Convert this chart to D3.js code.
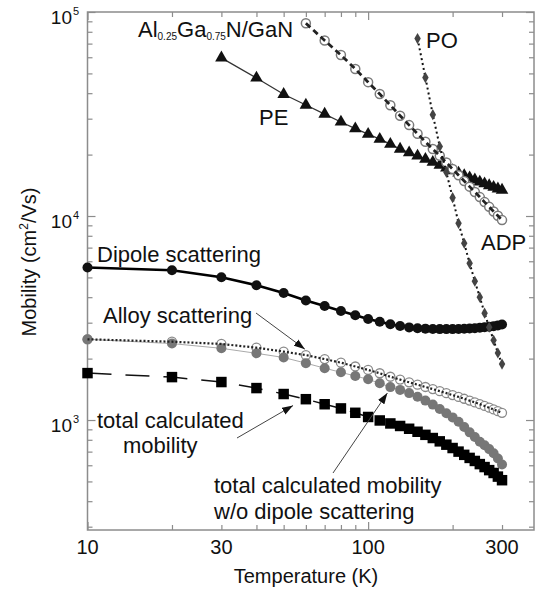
<!DOCTYPE html>
<html>
<head>
<meta charset="utf-8">
<script src="https://cdn.jsdelivr.net/npm/d3@7"></script>
<style>
  html, body { margin: 0; padding: 0; background: #fff; }
  svg { display: block; font-family: "Liberation Sans", Arial, Helvetica, sans-serif; }
</style>
</head>
<body>
<svg id="chart" width="538" height="593"></svg>
<script>
// Temperatures (K) for the curves computed on the full grid
const temperature = [10,20,30,40,50,60,70,80,90,100,110,120,130,140,150,160,170,180,190,200,210,220,230,240,250,260,270,280,290,300];
// Dipole scattering limited mobility (cm^2/Vs)
const dipole = [5590,5420,5010,4580,4190,3850,3620,3420,3260,3130,3030,2950,2890,2845,2820,2805,2795,2790,2790,2790,2795,2800,2810,2820,2835,2850,2865,2885,2910,2940];
// Alloy scattering limited mobility
const alloy = [2487,2420,2360,2262,2165,2080,1990,1910,1830,1760,1695,1630,1578,1530,1490,1452,1418,1385,1354,1325,1298,1271,1245,1220,1196,1172,1149,1127,1105,1084];
// Total calculated mobility without dipole scattering
const totalNoDipole = [2487,2370,2246,2123,2025,1900,1795,1713,1643,1583,1515,1450,1405,1355,1300,1245,1190,1133,1080,1030,980,925,870,825,783,752,720,687,648,605];
// Total calculated mobility
const totalMobility = [1698,1623,1535,1434,1341,1265,1195,1140,1085,1035,995,962,935,906,876,846,816,786,757,729,700,675,652,630,608,588,568,550,528,507];

// Piezoelectric scattering
const tempPE = [30,40,50,60,70,80,90,100,110,120,130,140,150,160,170,180,190,200,210,220,230,240,250,260,270,280,290,300];
const pe = [59600,47500,39500,35000,31600,28900,26800,25200,23800,22500,21300,20450,19700,19000,18350,17750,17200,16700,16250,15800,15400,15050,14700,14400,14100,13850,13600,13400];

// Acoustic deformation potential scattering
const tempADP = [60,70,80,90,100,110,120,130,140,150,160,170,180,190,200,210,220,230,240,250,260,270,280,290,300];
const adp = [88000,72500,61500,52600,45300,39600,34900,31000,27900,25300,23100,21300,19730,18280,16990,15850,14840,13930,13120,12380,11700,11090,10530,10020,9550];

// Polar optical phonon scattering
const tempPO = [150,160,170,180,190,200,210,220,230,240,250,260,270,280,290,300];
const po = [74100,47700,31400,21900,16400,12300,9210,7350,5860,4790,4000,3340,2850,2460,2130,1880];

// Axis ticks and labels
const xTickLabels = [10, 30, 100, 300];
const xMajorTicks = [10, 100];
const xMinorTicks = [20,30,40,50,60,70,80,90,200,300];
const yTickExponents = [3, 4, 5];
const yMinorTicks = [300,400,500,600,700,800,900,2000,3000,4000,5000,6000,7000,8000,9000,20000,30000,40000,50000,60000,70000,80000,90000];

const svg = d3.select("#chart");
const plotLeft = 87.5, plotRight = 534, plotTop = 12, plotBottom = 530;

const x = d3.scaleLog().domain([10, 390]).range([plotLeft, plotRight]);
const y = d3.scaleLog().domain([289, 1e5]).range([plotBottom, plotTop]);

const frameColor = "#8c8c8c";

// ---- ticks on all four sides, pointing inward ----
const xTicks = xMajorTicks.concat(xMinorTicks);
const yMajor = yTickExponents.map(e => Math.pow(10, e));
const yTicks = yMajor.concat(yMinorTicks);

function styleAxis(g, isMajor, attr, sign) {
  g.select(".domain").remove();
  g.selectAll(".tick line")
    .attr("stroke", frameColor)
    .attr("stroke-width", 1.2)
    .attr(attr, d => sign * (isMajor(d) ? 8 : 5));
}
const isXMajor = d => xMajorTicks.includes(d);
const isYMajor = d => yMajor.includes(d);

svg.append("g").attr("transform", `translate(0,${plotBottom})`)
  .call(d3.axisBottom(x).tickValues(xTicks).tickFormat("").tickSize(-5))
  .call(g => styleAxis(g, isXMajor, "y2", -1));
svg.append("g").attr("transform", `translate(0,${plotTop})`)
  .call(d3.axisTop(x).tickValues(xTicks).tickFormat("").tickSize(-5))
  .call(g => styleAxis(g, isXMajor, "y2", 1));
svg.append("g").attr("transform", `translate(${plotLeft},0)`)
  .call(d3.axisLeft(y).tickValues(yTicks).tickFormat("").tickSize(-5))
  .call(g => styleAxis(g, isYMajor, "x2", 1));
svg.append("g").attr("transform", `translate(${plotRight},0)`)
  .call(d3.axisRight(y).tickValues(yTicks).tickFormat("").tickSize(-5))
  .call(g => styleAxis(g, isYMajor, "x2", -1));

svg.append("rect")
  .attr("x", plotLeft).attr("y", plotTop)
  .attr("width", plotRight - plotLeft).attr("height", plotBottom - plotTop)
  .attr("fill", "none").attr("stroke", frameColor).attr("stroke-width", 1.5);

// ---- tick labels ----
svg.append("g").selectAll("text").data(xTickLabels).join("text")
  .attr("x", d => x(d)).attr("y", 554)
  .attr("text-anchor", "middle").attr("font-size", 20).attr("fill", "#111")
  .text(d => d);

const yLab = svg.append("g").selectAll("g").data(yTickExponents).join("g");
yLab.append("text")
  .attr("x", 72).attr("y", d => y(Math.pow(10, d)) + 12)
  .attr("text-anchor", "end").attr("font-size", 19).attr("fill", "#111")
  .text("10");
yLab.append("text")
  .attr("x", 73).attr("y", d => y(Math.pow(10, d)) + 3)
  .attr("font-size", 11).attr("fill", "#111")
  .text(d => d);

// ---- axis titles ----
svg.append("text")
  .attr("x", 306).attr("y", 583)
  .attr("text-anchor", "middle").attr("font-size", 20).attr("fill", "#111")
  .text("Temperature (K)");

const yTitle = svg.append("text")
  .attr("transform", "translate(36,262) rotate(-90)")
  .attr("text-anchor", "middle").attr("font-size", 20).attr("fill", "#111");
yTitle.append("tspan").text("Mobility (cm");
yTitle.append("tspan").attr("font-size", 12).attr("dy", -8).text("2");
yTitle.append("tspan").attr("dy", 8).text("/Vs)");

// ---- curves ----
const line = d3.line().x(d => x(d[0])).y(d => y(d[1]));
const pairs = (ts, vs) => ts.map((t, i) => [t, vs[i]]);

const dipoleData = pairs(temperature, dipole);
const alloyData = pairs(temperature, alloy);
const noDipoleData = pairs(temperature, totalNoDipole);
const totalData = pairs(temperature, totalMobility);
const peData = pairs(tempPE, pe);
const adpData = pairs(tempADP, adp);
const poData = pairs(tempPO, po);

const plot = svg.append("g");

// PE: solid line with filled triangles
plot.append("path").datum(peData).attr("d", line)
  .attr("fill", "none").attr("stroke", "#333").attr("stroke-width", 1.3);
plot.append("g").selectAll("path").data(peData).join("path")
  .attr("transform", d => `translate(${x(d[0])},${y(d[1])})`)
  .attr("d", d3.symbol(d3.symbolTriangle, 68))
  .attr("fill", "#111");

// ADP: open circles with a heavy dashed line
plot.append("g").selectAll("circle").data(adpData).join("circle")
  .attr("cx", d => x(d[0])).attr("cy", d => y(d[1])).attr("r", 4.5)
  .attr("fill", "#fff").attr("stroke", "#7a7a7a").attr("stroke-width", 1.5);
plot.append("path").datum(adpData).attr("d", line)
  .attr("fill", "none").attr("stroke", "#222").attr("stroke-width", 2.8)
  .attr("stroke-dasharray", "6,4");

// Dipole scattering: thick solid line, filled circles
plot.append("path").datum(dipoleData).attr("d", line)
  .attr("fill", "none").attr("stroke", "#000").attr("stroke-width", 2.6);
plot.append("g").selectAll("circle").data(dipoleData).join("circle")
  .attr("cx", d => x(d[0])).attr("cy", d => y(d[1])).attr("r", 5)
  .attr("fill", "#111");

// Alloy scattering: open circles
plot.append("g").selectAll("circle").data(alloyData).join("circle")
  .attr("cx", d => x(d[0])).attr("cy", d => y(d[1])).attr("r", 4.5)
  .attr("fill", "#fff").attr("stroke", "#8a8a8a").attr("stroke-width", 1.3);

// Total mobility without dipole scattering: grey circles, thin grey line
plot.append("path").datum(noDipoleData).attr("d", line)
  .attr("fill", "none").attr("stroke", "#aaa").attr("stroke-width", 1);
plot.append("g").selectAll("circle").data(noDipoleData).join("circle")
  .attr("cx", d => x(d[0])).attr("cy", d => y(d[1])).attr("r", 5)
  .attr("fill", "#777");

// Alloy dotted line over its markers
plot.append("path").datum(alloyData).attr("d", line)
  .attr("fill", "none").attr("stroke", "#222").attr("stroke-width", 2.2)
  .attr("stroke-dasharray", "2,2");

// Total calculated mobility: long-dash line, filled squares
plot.append("path").datum(totalData).attr("d", line)
  .attr("fill", "none").attr("stroke", "#111").attr("stroke-width", 1.5)
  .attr("stroke-dasharray", "24,14");
plot.append("g").selectAll("path").data(totalData).join("path")
  .attr("transform", d => `translate(${x(d[0])},${y(d[1])})`)
  .attr("d", d3.symbol(d3.symbolSquare, 110))
  .attr("fill", "#000");

// PO: dotted line with small diamonds
plot.append("path").datum(poData).attr("d", line)
  .attr("fill", "none").attr("stroke", "#111").attr("stroke-width", 2)
  .attr("stroke-dasharray", "2,3");
plot.append("g").selectAll("path").data(poData).join("path")
  .attr("transform", d => `translate(${x(d[0])},${y(d[1])})`)
  .attr("d", d3.symbol(d3.symbolDiamond, 36))
  .attr("fill", "#444");

// ---- annotations ----
const label = (tx, ty, str) => svg.append("text")
  .attr("x", tx).attr("y", ty).attr("font-size", 22).attr("fill", "#111").text(str);

const title = svg.append("text").attr("x", 138).attr("y", 37)
  .attr("font-size", 22).attr("fill", "#111");
title.append("tspan").text("Al");
title.append("tspan").attr("font-size", 10).attr("dy", 3).text("0.25");
title.append("tspan").attr("dy", -3).text("Ga");
title.append("tspan").attr("font-size", 10).attr("dy", 3).text("0.75");
title.append("tspan").attr("dy", -3).text("N/GaN");

label(259, 125, "PE");
label(426, 48, "PO");
label(481, 250, "ADP");
label(97, 262, "Dipole scattering");
label(103, 323, "Alloy scattering");
label(97, 428, "total calculated");
label(123, 453, "mobility");
label(214, 493, "total calculated mobility");
label(214, 519, "w/o dipole scattering");

const defs = svg.append("defs");
defs.append("marker").attr("id", "arrowhead")
  .attr("viewBox", "0 0 10 7").attr("refX", 10).attr("refY", 3.5)
  .attr("markerWidth", 11).attr("markerHeight", 8)
  .attr("markerUnits", "userSpaceOnUse").attr("orient", "auto")
  .append("path").attr("d", "M0,0 L10,3.5 L0,7 z").attr("fill", "#111");

const arrow = (x1, y1, x2, y2) => svg.append("line")
  .attr("x1", x1).attr("y1", y1).attr("x2", x2).attr("y2", y2)
  .attr("stroke", "#444").attr("stroke-width", 1)
  .attr("marker-end", "url(#arrowhead)");

// Alloy scattering label -> alloy curve at 60 K
arrow(256, 313, x(60) - 1, y(alloy[5]) - 6);
// total calculated mobility label -> squares between 50 and 60 K
arrow(237, 438, x(54), y((totalMobility[4] + totalMobility[5]) / 2) + 9);
// w/o dipole label -> grey curve at 120 K
arrow(333, 473, x(120) - 3, y(totalNoDipole[11]) + 6);
</script>
</body>
</html>
